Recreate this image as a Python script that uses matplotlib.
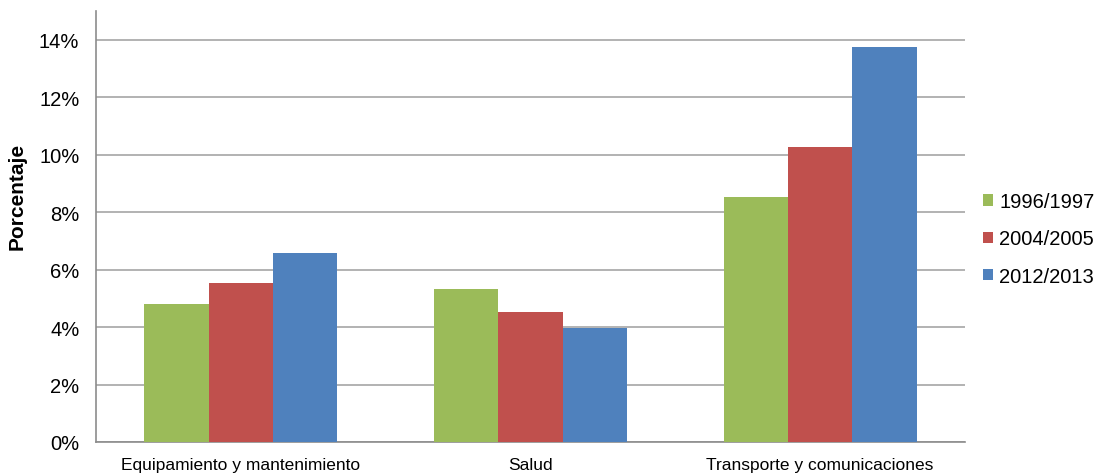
import matplotlib
matplotlib.use("Agg")
import matplotlib.pyplot as plt
import numpy as np
from matplotlib.ticker import FuncFormatter

categories = ["Equipamiento y mantenimiento", "Salud", "Transporte y comunicaciones"]
series_names = ["1996/1997", "2004/2005", "2012/2013"]
v1996 = [4.81, 5.33, 8.54]
v2004 = [5.54, 4.53, 10.27]
v2012 = [6.58, 3.97, 13.76]
colors = ["#9BBB59", "#C0504D", "#4F81BD"]

plt.rcParams['font.family'] = ['Liberation Sans', 'DejaVu Sans']

fig = plt.figure(figsize=(10.97, 4.77), dpi=100)
ax = fig.add_axes([96/1097, 34/477, (965-96)/1097, (443-12)/477])

x = np.arange(len(categories))
w = 0.2222
for i, (vals, name, c) in enumerate(zip([v1996, v2004, v2012], series_names, colors)):
    ax.bar(x + (i - 1) * w, vals, width=w, color=c, label=name, zorder=3)

ax.set_xlim(-0.5, 2.5)
ax.set_ylim(0, 15)
ax.set_yticks(np.arange(0, 15, 2))
ax.yaxis.set_major_formatter(FuncFormatter(lambda v, p: f"{v:.0f}%"))
ax.grid(axis='y', color='#A6A6A6', linewidth=1.2, zorder=0)
ax.set_xticks(x)
ax.set_xticklabels(categories, fontsize=12.5)
ax.tick_params(axis='y', labelsize=14.5, length=0, pad=12)
ax.tick_params(axis='x', length=0, pad=11)
for s in ['top', 'right']:
    ax.spines[s].set_visible(False)
ax.spines['left'].set_color('#8C8C8C')
ax.spines['bottom'].set_color('#8C8C8C')
ax.spines['left'].set_linewidth(1.2)
ax.spines['bottom'].set_linewidth(1.2)
ax.set_ylabel("Porcentaje", fontsize=15, fontweight='bold')
ax.yaxis.set_label_coords(-0.0794, 0.571)

leg = ax.legend(loc='center left', bbox_to_anchor=(1.0046, 0.471), frameon=False,
                fontsize=14.5, handlelength=0.5, handleheight=0.5, labelspacing=0.9,
                handletextpad=0.3, borderpad=0.2)

fig.savefig("out.png", dpi=100)
